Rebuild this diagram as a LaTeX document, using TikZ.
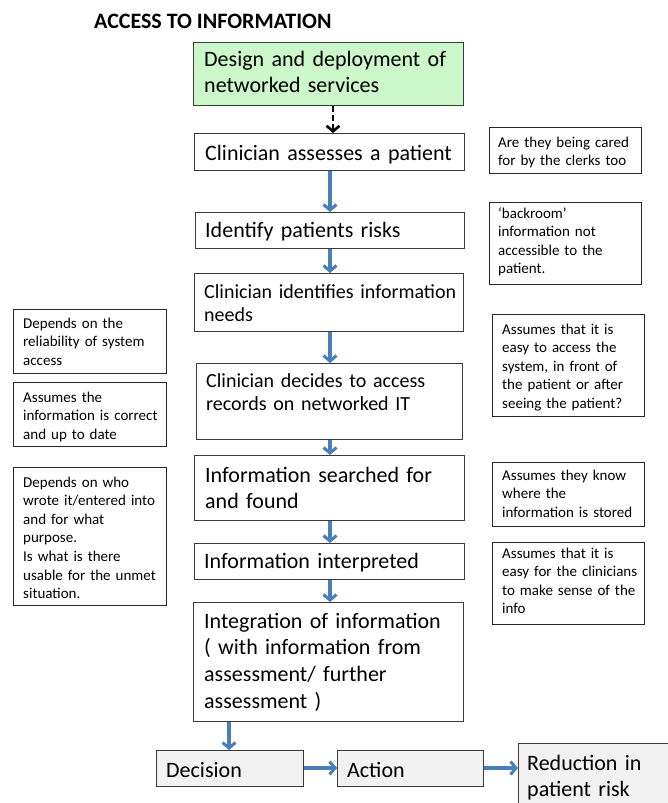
\documentclass[tikz,border=0pt]{standalone}
\usepackage{fontspec}
\setmainfont{Carlito}
\usetikzlibrary{arrows.meta}
\definecolor{boxline}{HTML}{3A3A3A}
\definecolor{greenfill}{HTML}{CCF7CA}
\definecolor{greyfill}{HTML}{F2F2F2}
\definecolor{arrowblue}{HTML}{4A7EBB}
\tikzset{
  mainbox/.style={draw=boxline, line width=1.4pt, fill=white, inner sep=0pt, anchor=north west, rectangle},
  notebox/.style={draw=black!85, line width=1.1pt, fill=white, inner sep=0pt, anchor=north west, rectangle},
  bigtxt/.style={inner sep=0pt, anchor=base west, text width=265pt, align=left, font=\fontsize{22}{26.7}\selectfont},
  midtxt/.style={inner sep=0pt, anchor=base west, text width=265pt, align=left, font=\fontsize{20}{23.5}\selectfont},
  notetxt/.style={inner sep=0pt, anchor=base west, text width=150pt, align=left, font=\fontsize{15}{18.6}\selectfont},
  flow/.style={draw=arrowblue, line width=3.2pt, -{Straight Barb[length=5.5pt,width=13pt,line width=3pt]}},
  dashflow/.style={draw=black, line width=2.8pt, dash pattern=on 6pt off 3pt, -{Straight Barb[length=5.5pt,width=13pt,line width=2.6pt]}}
}
\begin{document}
\begin{tikzpicture}[x=1pt,y=-1pt]
\useasboundingbox (0,0) rectangle (668,803);
\clip (0,0) rectangle (668,803);
\fill[white] (0,0) rectangle (668,803);

% title
\node[inner sep=0pt, anchor=base west, font=\fontsize{22}{26}\selectfont\bfseries] (title) at (94,28) {ACCESS TO INFORMATION};

% main column boxes
\node[mainbox, fill=greenfill, minimum width=270pt, minimum height=63pt] (g) at (193,42) {};
\node[bigtxt] (gt) at (204,66) {Design and deployment of\\networked services};

\node[mainbox, minimum width=270pt, minimum height=37pt] (b1) at (194,133) {};
\node[bigtxt] (b1t) at (205,160) {Clinician assesses a patient};

\node[mainbox, minimum width=269pt, minimum height=36pt] (b2) at (195,212) {};
\node[bigtxt] (b2t) at (205,237) {Identify patients risks};

\node[mainbox, minimum width=269pt, minimum height=58pt] (b3) at (194,273) {};
\node[midtxt] (b3t) at (204,298) {Clinician identifies information\\needs};

\node[mainbox, minimum width=266pt, minimum height=76pt] (b4) at (196,363) {};
\node[midtxt] (b4t) at (206,387) {Clinician decides to access\\records on networked IT};

\node[mainbox, minimum width=270pt, minimum height=65pt] (b5) at (194,455) {};
\node[bigtxt] (b5t) at (205,482) {Information searched for\\and found};

\node[mainbox, minimum width=270pt, minimum height=36pt] (b6) at (194,543) {};
\node[bigtxt] (b6t) at (204,568) {Information interpreted};

\node[mainbox, minimum width=270pt, minimum height=119pt] (b7) at (193,602) {};
\node[bigtxt] (b7t) at (204,628) {Integration of information\\( with information from\\assessment/ further\\assessment )};

% bottom row
\node[mainbox, fill=greyfill, minimum width=147pt, minimum height=36pt] (dec) at (156,750) {};
\node[bigtxt, text width=140pt] (dect) at (166,777) {Decision};
\node[mainbox, fill=greyfill, minimum width=146pt, minimum height=36pt] (act) at (337,750) {};
\node[bigtxt, text width=140pt] (actt) at (347,777) {Action};
\node[mainbox, fill=greyfill, minimum width=180pt, minimum height=90pt] (red) at (518,743) {};
\node[bigtxt, text width=160pt] (redt) at (527,770) {Reduction in\\patient risk};

% right notes
\node[notebox, minimum width=152pt, minimum height=46pt] (n1) at (489,127) {};
\node[notetxt] (n1t) at (498,147) {Are they being cared\\for by the clerks too};

\node[notebox, minimum width=152pt, minimum height=82pt] (n2) at (489,202) {};
\node[notetxt] (n2t) at (498,218) {‘backroom’\\information not\\accessible to the\\patient.};

\node[notebox, minimum width=152pt, minimum height=102pt] (n3) at (492,314) {};
\node[notetxt] (n3t) at (502,334) {Assumes that it is\\easy to access the\\system, in front of\\the patient or after\\seeing the patient?};

\node[notebox, minimum width=152pt, minimum height=64pt] (n4) at (492,462) {};
\node[notetxt] (n4t) at (502,480) {Assumes they know\\where the\\information is stored};

\node[notebox, minimum width=152pt, minimum height=82pt] (n5) at (492,542) {};
\node[notetxt] (n5t) at (502,558) {Assumes that it is\\easy for the clinicians\\to make sense of the\\info};

% left notes
\node[notebox, minimum width=153pt, minimum height=64pt] (l1) at (13,309) {};
\node[notetxt] (l1t) at (23,328) {Depends on the\\reliability of system\\access};

\node[notebox, minimum width=153pt, minimum height=64pt] (l2) at (13,382) {};
\node[notetxt] (l2t) at (23,402) {Assumes the\\information is correct\\and up to date};

\node[notebox, minimum width=153pt, minimum height=138pt] (l3) at (13,467) {};
\node[notetxt] (l3t) at (23,487) {Depends on who\\wrote it/entered into\\and for what\\purpose.\\Is what is there\\usable for the unmet\\situation.};

% connectors
\coordinate (dx) at (333,0);
\coordinate (cx) at (330,0);
\coordinate (ex) at (229,0);
\coordinate (hy) at (0,768);
\draw[dashflow] (g.south -| dx) -- (b1.north -| dx);
\draw[flow] (b1.south -| cx) -- (b2.north -| cx);
\draw[flow] (b2.south -| cx) -- (b3.north -| cx);
\draw[flow] (b3.south -| cx) -- (b4.north -| cx);
\draw[flow] (b4.south -| cx) -- (b5.north -| cx);
\draw[flow] (b5.south -| cx) -- (b6.north -| cx);
\draw[flow] (b6.south -| cx) -- (b7.north -| cx);
\draw[flow] (b7.south -| ex) -- (dec.north -| ex);
\draw[flow] (dec.east |- hy) -- (act.west |- hy);
\draw[flow] (act.east |- hy) -- (red.west |- hy);
\end{tikzpicture}
\end{document}
